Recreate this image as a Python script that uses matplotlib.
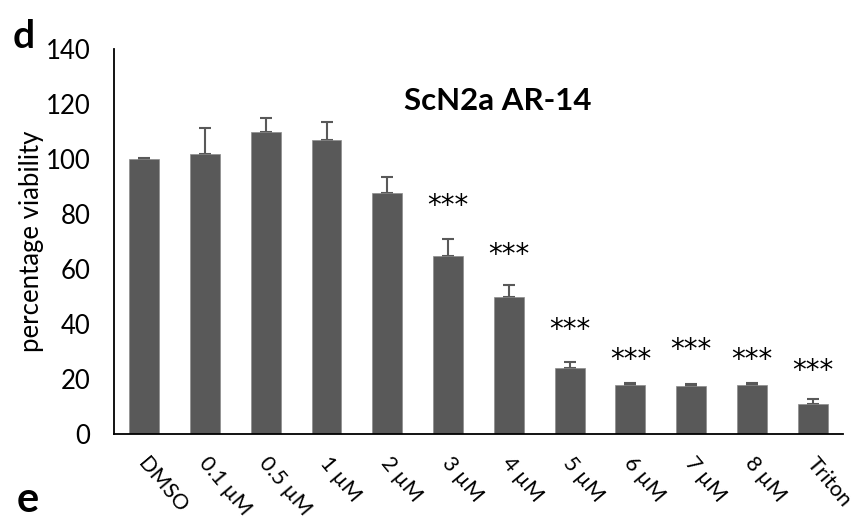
import numpy as np
import matplotlib
matplotlib.use('Agg')
from matplotlib import pyplot as plt

plt.rcParams['font.family'] = ['Lato', 'DejaVu Sans']

# data
labels = ['DMSO', '0.1 µM', '0.5 µM', '1 µM', '2 µM', '3 µM', '4 µM',
          '5 µM', '6 µM', '7 µM', '8 µM', 'Triton']
viability = [100, 101.7, 109.7, 106.8, 87.8, 64.7, 49.9, 24.1, 17.8, 17.5, 17.7, 10.8]
err = [0.3, 9.7, 5.3, 6.8, 5.5, 6.3, 4.2, 2.1, 0.9, 0.6, 0.7, 2.0]
# significance marks: which bars and the height the stars sit at
star_idx = [5, 6, 7, 8, 9, 10, 11]
star_y = [85.5, 67.7, 40.3, 29.3, 33.0, 29.3, 25.3]

fig = plt.figure(figsize=(8.53, 5.19), dpi=100)
ax = fig.add_axes([0.1336, 0.1638, 0.9883 - 0.1336, 0.9056 - 0.1638])

x = np.arange(len(labels))
ax.bar(x, viability, width=0.49, color='#595959', edgecolor='#8c8c8c',
       linewidth=0.5, zorder=2)
ax.errorbar(x, viability, yerr=[np.zeros(len(err)), err], fmt='none',
            ecolor='#595959', elinewidth=1.5, capsize=4.3, capthick=1.5, zorder=1)

for i, yv in zip(star_idx, star_y):
    ax.annotate('***', xy=(x[i], yv), xytext=(0, -5), textcoords='offset points',
                ha='center', va='center', fontsize=20, family='DejaVu Sans')

ax.set_xlim(-0.5, len(labels) - 0.5)
ax.set_ylim(0, 140)
ax.set_yticks(np.arange(0, 141, 20))
ax.tick_params(axis='y', length=0, labelsize=18.5, pad=17)
ax.tick_params(axis='x', length=0)
ax.set_xticks(x)
ax.set_xticklabels([])
for xi, lab in zip(x, labels):
    ax.annotate(lab, xy=(xi, 0), xytext=(3.5, -14), textcoords='offset points',
                rotation=-50, rotation_mode='anchor',
                ha='left', va='top', fontsize=15.5, annotation_clip=False)

ax.spines['top'].set_visible(False)
ax.spines['right'].set_visible(False)
ax.spines['left'].set_linewidth(1.3)
ax.spines['bottom'].set_linewidth(1.3)

ax.set_ylabel('percentage viability', fontsize=18.5, labelpad=1)
fig.text(0.583, 0.806, 'ScN2a AR-14', ha='center', va='center',
         fontsize=22.5, fontweight='bold')

fig.text(0.015, 0.93, 'd', fontsize=28, fontweight='bold', ha='left', va='center')
fig.text(0.02, 0.0135, 'e', fontsize=30, fontweight='bold', ha='left', va='baseline')

fig.savefig('out.png', dpi=100)
